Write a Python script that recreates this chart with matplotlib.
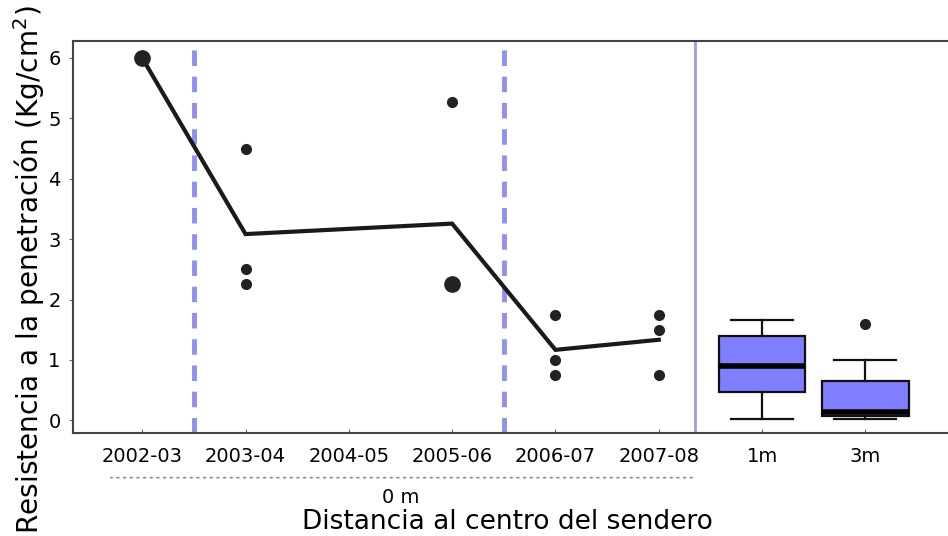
import matplotlib
matplotlib.use("Agg")
import matplotlib.pyplot as plt
from collections import Counter

plt.rcParams['font.family'] = ['DejaVu Sans']

# Penetration resistance per campaign at the trail centre (0 m)
seasons = ["2002-03", "2003-04", "2004-05", "2005-06", "2006-07", "2007-08"]
season_values = {
    "2002-03": [6.0, 6.0],
    "2003-04": [4.5, 2.5, 2.25],
    "2004-05": [],
    "2005-06": [5.27, 2.25, 2.25],
    "2006-07": [1.75, 1.0, 0.75],
    "2007-08": [1.75, 1.5, 0.75],
}

# Distribution summaries at 1 m and 3 m from the trail centre
distance_labels = ["1m", "3m"]
box_whislo = [0.02, 0.02]
box_q1 = [0.47, 0.07]
box_med = [0.90, 0.14]
box_q3 = [1.40, 0.65]
box_whishi = [1.66, 1.00]
box_fliers = [[], [1.59]]

# Period separators (in category units)
dashed_breaks = [0.5, 3.5]
panel_break = 5.35

fig = plt.figure(figsize=(9.48, 5.36), dpi=100)
ax = fig.add_axes([73 / 948, 1 - 433 / 536, 1 - 73 / 948, (433 - 41) / 536])

FS = 14
dot_color = "#222222"

# Scatter points; repeated values are drawn larger
for i, s in enumerate(seasons):
    counts = Counter(season_values[s])
    for v, n in counts.items():
        ax.plot(i, v, "o", color=dot_color, ms=7 if n == 1 else 11, zorder=4)

# Line through the mean of each sampled campaign
mx, my = [], []
for i, s in enumerate(seasons):
    vals = season_values[s]
    if vals:
        mx.append(i)
        my.append(sum(vals) / len(vals))
ax.plot(mx, my, color="#1a1a1a", lw=3, zorder=3, solid_joinstyle="miter")

# Boxplots for the distance groups
box_pos = [len(seasons), len(seasons) + 1]
stats = []
for k, lab in enumerate(distance_labels):
    stats.append(dict(label=lab, whislo=box_whislo[k], q1=box_q1[k], med=box_med[k],
                      q3=box_q3[k], whishi=box_whishi[k], fliers=box_fliers[k]))
ax.bxp(stats, positions=box_pos, widths=0.84, patch_artist=True, showfliers=True,
       boxprops=dict(facecolor="#7f7fff", edgecolor="#111111", lw=1.6),
       medianprops=dict(color="#000000", lw=4),
       whiskerprops=dict(color="#111111", lw=1.6),
       capprops=dict(color="#111111", lw=1.6),
       capwidths=0.6,
       flierprops=dict(marker="o", markerfacecolor=dot_color, markeredgecolor=dot_color, ms=7),
       zorder=2)

for xb in dashed_breaks:
    ax.axvline(xb, color="#9090ee", lw=3.5, ls=(0, (3.2, 2.2)), zorder=1)
ax.axvline(panel_break, color="#9a9af0", lw=2, zorder=1)

ax.set_xlim(-0.67, 7.8)
ax.set_ylim(-0.21, 6.28)
ax.set_xticks(range(len(seasons) + 2))
ax.set_xticklabels(seasons + distance_labels, fontsize=FS)
ax.set_yticks(range(0, 7))
ax.set_yticklabels([str(v) for v in range(0, 7)], fontsize=FS)
ax.tick_params(axis="x", direction="in", length=3, width=0.8, color="#666666", pad=10)
ax.tick_params(axis="y", direction="out", length=3, width=0.8, color="#666666", pad=6)

for side in ["left", "bottom", "top"]:
    ax.spines[side].set_color("#444444")
    ax.spines[side].set_linewidth(1.5)
ax.spines["right"].set_visible(False)

# Group bracket under the campaign labels
ax.annotate("", xy=(-0.33, -0.95), xytext=(5.35, -0.95), xycoords="data",
            arrowprops=dict(arrowstyle="-", ls=(0, (1, 3)), color="#888888", lw=1.2),
            annotation_clip=False)
ax.text(2.5, -1.28, "0 m", ha="center", va="center", fontsize=FS)

fig.text(29 / 948, 1 - 270 / 536, "Resistencia a la penetración (Kg/cm$^2$)",
         rotation=90, ha="center", va="center", fontsize=20.2)
fig.text(507 / 948, 1 - 522 / 536, "Distancia al centro del sendero", ha="center",
         va="center", fontsize=19)

fig.savefig("out.png", dpi=100)
